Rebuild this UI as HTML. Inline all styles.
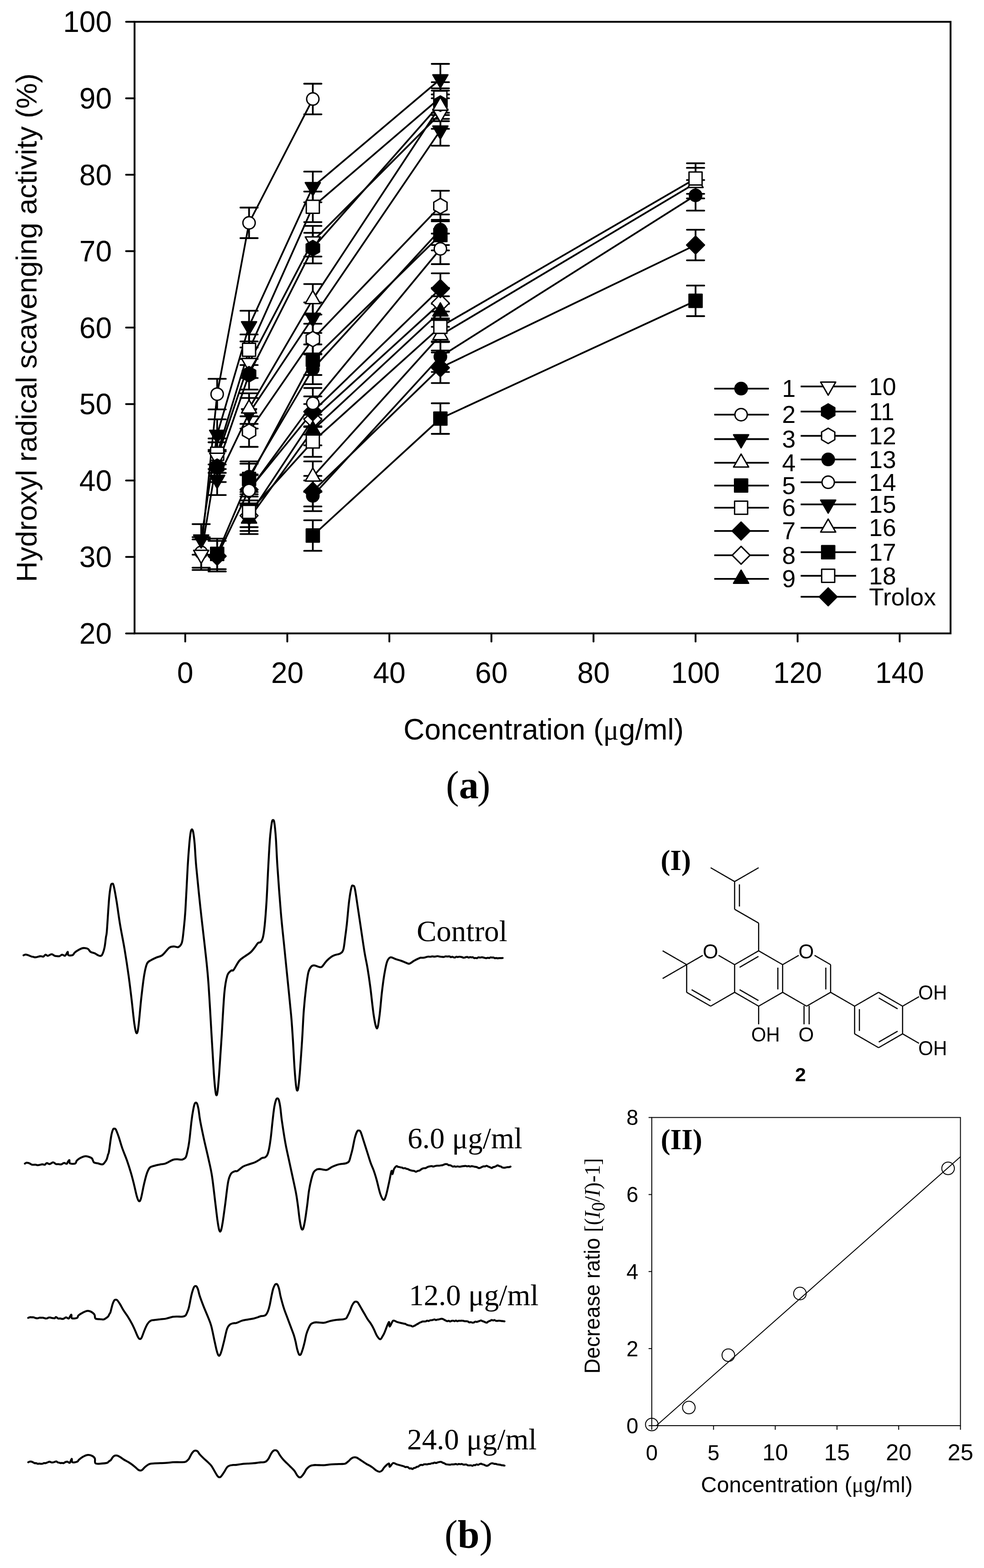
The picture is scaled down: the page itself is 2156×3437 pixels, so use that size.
<!DOCTYPE html>
<html><head><meta charset="utf-8"><title>Figure</title>
<style>html,body{margin:0;padding:0;background:#fff;}svg{display:block;}</style>
</head><body>
<svg width="2156" height="3437" viewBox="0 0 2156 3437">
<rect width="2156" height="3437" fill="#fff"/>
<g fill="none" stroke="#000" stroke-width="4" stroke-linecap="round">
<rect x="294.8" y="47.8" width="1787.9" height="1340.6" stroke-linejoin="miter"/>
<line x1="276.2" y1="1388.4" x2="294.8" y2="1388.4"/>
<line x1="276.2" y1="1220.8" x2="294.8" y2="1220.8"/>
<line x1="276.2" y1="1053.2" x2="294.8" y2="1053.2"/>
<line x1="276.2" y1="885.7" x2="294.8" y2="885.7"/>
<line x1="276.2" y1="718.1" x2="294.8" y2="718.1"/>
<line x1="276.2" y1="550.5" x2="294.8" y2="550.5"/>
<line x1="276.2" y1="382.9" x2="294.8" y2="382.9"/>
<line x1="276.2" y1="215.4" x2="294.8" y2="215.4"/>
<line x1="276.2" y1="47.8" x2="294.8" y2="47.8"/>
<line x1="405.9" y1="1388.4" x2="405.9" y2="1406.3"/>
<line x1="629.5" y1="1388.4" x2="629.5" y2="1406.3"/>
<line x1="853.1" y1="1388.4" x2="853.1" y2="1406.3"/>
<line x1="1076.7" y1="1388.4" x2="1076.7" y2="1406.3"/>
<line x1="1300.4" y1="1388.4" x2="1300.4" y2="1406.3"/>
<line x1="1524.0" y1="1388.4" x2="1524.0" y2="1406.3"/>
<line x1="1747.6" y1="1388.4" x2="1747.6" y2="1406.3"/>
<line x1="1971.2" y1="1388.4" x2="1971.2" y2="1406.3"/>
</g>
<g font-family="'Liberation Sans', Arial, sans-serif" font-size="64" fill="#000">
<text x="245" y="1411.0" text-anchor="end">20</text>
<text x="245" y="1243.4" text-anchor="end">30</text>
<text x="245" y="1075.8" text-anchor="end">40</text>
<text x="245" y="908.3" text-anchor="end">50</text>
<text x="245" y="740.7" text-anchor="end">60</text>
<text x="245" y="573.1" text-anchor="end">70</text>
<text x="245" y="405.6" text-anchor="end">80</text>
<text x="245" y="238.0" text-anchor="end">90</text>
<text x="245" y="70.4" text-anchor="end">100</text>
<text x="405.9" y="1497" text-anchor="middle">0</text>
<text x="629.5" y="1497" text-anchor="middle">20</text>
<text x="853.1" y="1497" text-anchor="middle">40</text>
<text x="1076.7" y="1497" text-anchor="middle">60</text>
<text x="1300.4" y="1497" text-anchor="middle">80</text>
<text x="1524.0" y="1497" text-anchor="middle">100</text>
<text x="1747.6" y="1497" text-anchor="middle">120</text>
<text x="1971.2" y="1497" text-anchor="middle">140</text>
<text x="80" y="1276" font-size="63.3" transform="rotate(-90 80 1276)">Hydroxyl radical scavenging activity (%)</text>
<text x="884" y="1621">Concentration (<tspan font-family="'Liberation Serif', serif">&#956;</tspan>g/ml)</text>
</g>
<text x="977" y="1750" font-family="'Liberation Serif', serif" font-weight="bold" font-size="86"><tspan font-weight="normal">(</tspan>a<tspan font-weight="normal" dx="-3">)</tspan></text>
<g fill="none" stroke="#000" stroke-width="3.8" stroke-linejoin="round">
<path d="M545.7 1044.9L685.4 808.6L964.9 503.6"/>
<path d="M440.8 1210.8L475.8 863.9L545.7 488.5L685.4 217.1"/>
<path d="M440.8 1182.3L475.8 952.7L545.7 714.7L685.4 409.8L964.9 173.5"/>
<path d="M545.7 895.7L685.4 656.1L964.9 232.1"/>
<path d="M475.8 1214.1L545.7 1049.9L685.4 788.5L964.9 515.3"/>
<path d="M475.8 994.6L545.7 766.7L685.4 453.3L964.9 213.7"/>
<path d="M475.8 1219.1L545.7 1073.4L685.4 902.4L964.9 632.6"/>
<path d="M545.7 1130.3L685.4 919.2L964.9 664.5"/>
<path d="M545.7 1137.0L685.4 942.7L964.9 682.9"/>
<path d="M440.8 1215.8L475.8 1003.0L545.7 795.2L685.4 528.7L964.9 248.9"/>
<path d="M475.8 1023.1L545.7 820.3L685.4 543.8L964.9 227.1"/>
<path d="M545.7 946.0L685.4 743.2L964.9 451.7"/>
<path d="M685.4 1086.8L964.9 781.8L1524.0 428.2"/>
<path d="M545.7 1075.0L685.4 884.0L964.9 545.5"/>
<path d="M475.8 1051.6L545.7 905.8L685.4 696.3L964.9 285.8"/>
<path d="M685.4 1044.9L964.9 734.9L1524.0 401.4"/>
<path d="M685.4 1173.9L964.9 917.5L1524.0 659.4"/>
<path d="M545.7 1122.0L685.4 967.8L964.9 716.4L1524.0 391.3"/>
<path d="M685.4 1076.7L964.9 806.1L1524.0 537.1"/>
</g>
<g fill="none" stroke="#000" stroke-width="3.8" stroke-linecap="round">
<path d="M545.7 1011.4V1078.4M526.7 1011.4H564.7M526.7 1078.4H564.7"/>
<path d="M685.4 775.1V842.1M666.4 775.1H704.4M666.4 842.1H704.4"/>
<path d="M964.9 470.1V537.1M945.9 470.1H983.9M945.9 537.1H983.9"/>
<path d="M440.8 1177.3V1244.3M421.8 1177.3H459.8M421.8 1244.3H459.8"/>
<path d="M475.8 830.4V897.4M456.8 830.4H494.8M456.8 897.4H494.8"/>
<path d="M545.7 455.0V522.0M526.7 455.0H564.7M526.7 522.0H564.7"/>
<path d="M685.4 183.5V250.6M666.4 183.5H704.4M666.4 250.6H704.4"/>
<path d="M440.8 1148.8V1215.8M421.8 1148.8H459.8M421.8 1215.8H459.8"/>
<path d="M475.8 919.2V986.2M456.8 919.2H494.8M456.8 986.2H494.8"/>
<path d="M545.7 681.2V748.3M526.7 681.2H564.7M526.7 748.3H564.7"/>
<path d="M685.4 376.2V443.3M666.4 376.2H704.4M666.4 443.3H704.4"/>
<path d="M964.9 140.0V207.0M945.9 140.0H983.9M945.9 207.0H983.9"/>
<path d="M545.7 862.2V929.2M526.7 862.2H564.7M526.7 929.2H564.7"/>
<path d="M685.4 622.6V689.6M666.4 622.6H704.4M666.4 689.6H704.4"/>
<path d="M964.9 198.6V265.6M945.9 198.6H983.9M945.9 265.6H983.9"/>
<path d="M475.8 1180.6V1247.6M456.8 1180.6H494.8M456.8 1247.6H494.8"/>
<path d="M545.7 1016.4V1083.4M526.7 1016.4H564.7M526.7 1083.4H564.7"/>
<path d="M685.4 755.0V822.0M666.4 755.0H704.4M666.4 822.0H704.4"/>
<path d="M964.9 481.8V548.8M945.9 481.8H983.9M945.9 548.8H983.9"/>
<path d="M475.8 961.1V1028.1M456.8 961.1H494.8M456.8 1028.1H494.8"/>
<path d="M545.7 733.2V800.2M526.7 733.2H564.7M526.7 800.2H564.7"/>
<path d="M685.4 419.8V486.8M666.4 419.8H704.4M666.4 486.8H704.4"/>
<path d="M964.9 180.2V247.2M945.9 180.2H983.9M945.9 247.2H983.9"/>
<path d="M475.8 1185.6V1252.7M456.8 1185.6H494.8M456.8 1252.7H494.8"/>
<path d="M545.7 1039.8V1106.9M526.7 1039.8H564.7M526.7 1106.9H564.7"/>
<path d="M685.4 868.9V935.9M666.4 868.9H704.4M666.4 935.9H704.4"/>
<path d="M964.9 599.1V666.2M945.9 599.1H983.9M945.9 666.2H983.9"/>
<path d="M545.7 1096.8V1163.8M526.7 1096.8H564.7M526.7 1163.8H564.7"/>
<path d="M685.4 885.7V952.7M666.4 885.7H704.4M666.4 952.7H704.4"/>
<path d="M964.9 631.0V698.0M945.9 631.0H983.9M945.9 698.0H983.9"/>
<path d="M545.7 1103.5V1170.6M526.7 1103.5H564.7M526.7 1170.6H564.7"/>
<path d="M685.4 909.1V976.2M666.4 909.1H704.4M666.4 976.2H704.4"/>
<path d="M964.9 649.4V716.4M945.9 649.4H983.9M945.9 716.4H983.9"/>
<path d="M440.8 1182.3V1249.3M421.8 1182.3H459.8M421.8 1249.3H459.8"/>
<path d="M475.8 969.5V1036.5M456.8 969.5H494.8M456.8 1036.5H494.8"/>
<path d="M545.7 761.7V828.7M526.7 761.7H564.7M526.7 828.7H564.7"/>
<path d="M685.4 495.2V562.3M666.4 495.2H704.4M666.4 562.3H704.4"/>
<path d="M964.9 215.4V282.4M945.9 215.4H983.9M945.9 282.4H983.9"/>
<path d="M475.8 989.6V1056.6M456.8 989.6H494.8M456.8 1056.6H494.8"/>
<path d="M545.7 786.8V853.8M526.7 786.8H564.7M526.7 853.8H564.7"/>
<path d="M685.4 510.3V577.3M666.4 510.3H704.4M666.4 577.3H704.4"/>
<path d="M964.9 193.6V260.6M945.9 193.6H983.9M945.9 260.6H983.9"/>
<path d="M545.7 912.5V979.5M526.7 912.5H564.7M526.7 979.5H564.7"/>
<path d="M685.4 709.7V776.8M666.4 709.7H704.4M666.4 776.8H704.4"/>
<path d="M964.9 418.1V485.2M945.9 418.1H983.9M945.9 485.2H983.9"/>
<path d="M685.4 1053.2V1120.3M666.4 1053.2H704.4M666.4 1120.3H704.4"/>
<path d="M964.9 748.3V815.3M945.9 748.3H983.9M945.9 815.3H983.9"/>
<path d="M1524.0 394.7V461.7M1505.0 394.7H1543.0M1505.0 461.7H1543.0"/>
<path d="M545.7 1041.5V1108.5M526.7 1041.5H564.7M526.7 1108.5H564.7"/>
<path d="M685.4 850.5V917.5M666.4 850.5H704.4M666.4 917.5H704.4"/>
<path d="M964.9 512.0V579.0M945.9 512.0H983.9M945.9 579.0H983.9"/>
<path d="M475.8 1018.1V1085.1M456.8 1018.1H494.8M456.8 1085.1H494.8"/>
<path d="M545.7 872.3V939.3M526.7 872.3H564.7M526.7 939.3H564.7"/>
<path d="M685.4 662.8V729.8M666.4 662.8H704.4M666.4 729.8H704.4"/>
<path d="M964.9 252.2V319.3M945.9 252.2H983.9M945.9 319.3H983.9"/>
<path d="M685.4 1011.4V1078.4M666.4 1011.4H704.4M666.4 1078.4H704.4"/>
<path d="M964.9 701.3V768.4M945.9 701.3H983.9M945.9 768.4H983.9"/>
<path d="M1524.0 367.9V434.9M1505.0 367.9H1543.0M1505.0 434.9H1543.0"/>
<path d="M685.4 1140.4V1207.4M666.4 1140.4H704.4M666.4 1207.4H704.4"/>
<path d="M964.9 884.0V951.0M945.9 884.0H983.9M945.9 951.0H983.9"/>
<path d="M1524.0 625.9V693.0M1505.0 625.9H1543.0M1505.0 693.0H1543.0"/>
<path d="M545.7 1088.4V1155.5M526.7 1088.4H564.7M526.7 1155.5H564.7"/>
<path d="M685.4 934.3V1001.3M666.4 934.3H704.4M666.4 1001.3H704.4"/>
<path d="M964.9 682.9V749.9M945.9 682.9H983.9M945.9 749.9H983.9"/>
<path d="M1524.0 357.8V424.8M1505.0 357.8H1543.0M1505.0 424.8H1543.0"/>
<path d="M685.4 1043.2V1110.2M666.4 1043.2H704.4M666.4 1110.2H704.4"/>
<path d="M964.9 772.6V839.6M945.9 772.6H983.9M945.9 839.6H983.9"/>
<path d="M1524.0 503.6V570.6M1505.0 503.6H1543.0M1505.0 570.6H1543.0"/>
</g>
<circle cx="545.7" cy="1044.9" r="13.5" fill="#000" stroke="#000" stroke-width="3.0"/>
<circle cx="685.4" cy="808.6" r="13.5" fill="#000" stroke="#000" stroke-width="3.0"/>
<circle cx="964.9" cy="503.6" r="13.5" fill="#000" stroke="#000" stroke-width="3.0"/>
<circle cx="440.8" cy="1210.8" r="13.5" fill="#fff" stroke="#000" stroke-width="3.0"/>
<circle cx="475.8" cy="863.9" r="13.5" fill="#fff" stroke="#000" stroke-width="3.0"/>
<circle cx="545.7" cy="488.5" r="13.5" fill="#fff" stroke="#000" stroke-width="3.0"/>
<circle cx="685.4" cy="217.1" r="13.5" fill="#fff" stroke="#000" stroke-width="3.0"/>
<path d="M424.3 1172.8L457.3 1172.8L440.8 1201.3Z" fill="#000" stroke="#000" stroke-width="3.0" stroke-linejoin="round"/>
<path d="M459.3 943.2L492.3 943.2L475.8 971.8Z" fill="#000" stroke="#000" stroke-width="3.0" stroke-linejoin="round"/>
<path d="M529.2 705.2L562.2 705.2L545.7 733.8Z" fill="#000" stroke="#000" stroke-width="3.0" stroke-linejoin="round"/>
<path d="M668.9 400.2L701.9 400.2L685.4 428.8Z" fill="#000" stroke="#000" stroke-width="3.0" stroke-linejoin="round"/>
<path d="M948.4 164.0L981.4 164.0L964.9 192.5Z" fill="#000" stroke="#000" stroke-width="3.0" stroke-linejoin="round"/>
<rect x="461.5" y="1199.8" width="28.6" height="28.6" fill="#000" stroke="#000" stroke-width="3.0" stroke-linejoin="round"/>
<rect x="531.4" y="1035.6" width="28.6" height="28.6" fill="#000" stroke="#000" stroke-width="3.0" stroke-linejoin="round"/>
<rect x="671.1" y="774.2" width="28.6" height="28.6" fill="#000" stroke="#000" stroke-width="3.0" stroke-linejoin="round"/>
<rect x="950.6" y="501.0" width="28.6" height="28.6" fill="#000" stroke="#000" stroke-width="3.0" stroke-linejoin="round"/>
<rect x="461.5" y="980.3" width="28.6" height="28.6" fill="#fff" stroke="#000" stroke-width="3.0" stroke-linejoin="round"/>
<rect x="531.4" y="752.4" width="28.6" height="28.6" fill="#fff" stroke="#000" stroke-width="3.0" stroke-linejoin="round"/>
<rect x="671.1" y="439.0" width="28.6" height="28.6" fill="#fff" stroke="#000" stroke-width="3.0" stroke-linejoin="round"/>
<rect x="950.6" y="199.4" width="28.6" height="28.6" fill="#fff" stroke="#000" stroke-width="3.0" stroke-linejoin="round"/>
<path d="M545.7 1110.8L565.2 1130.3L545.7 1149.8L526.2 1130.3Z" fill="#fff" stroke="#000" stroke-width="3.0" stroke-linejoin="round"/>
<path d="M685.4 899.7L704.9 919.2L685.4 938.7L665.9 919.2Z" fill="#fff" stroke="#000" stroke-width="3.0" stroke-linejoin="round"/>
<path d="M964.9 645.0L984.4 664.5L964.9 684.0L945.4 664.5Z" fill="#fff" stroke="#000" stroke-width="3.0" stroke-linejoin="round"/>
<path d="M475.8 1199.6L495.3 1219.1L475.8 1238.6L456.3 1219.1Z" fill="#000" stroke="#000" stroke-width="3.0" stroke-linejoin="round"/>
<path d="M545.7 1053.9L565.2 1073.4L545.7 1092.9L526.2 1073.4Z" fill="#000" stroke="#000" stroke-width="3.0" stroke-linejoin="round"/>
<path d="M685.4 882.9L704.9 902.4L685.4 921.9L665.9 902.4Z" fill="#000" stroke="#000" stroke-width="3.0" stroke-linejoin="round"/>
<path d="M964.9 613.1L984.4 632.6L964.9 652.1L945.4 632.6Z" fill="#000" stroke="#000" stroke-width="3.0" stroke-linejoin="round"/>
<path d="M529.2 1146.6L562.2 1146.6L545.7 1118.0Z" fill="#000" stroke="#000" stroke-width="3.0" stroke-linejoin="round"/>
<path d="M668.9 952.2L701.9 952.2L685.4 923.6Z" fill="#000" stroke="#000" stroke-width="3.0" stroke-linejoin="round"/>
<path d="M948.4 692.4L981.4 692.4L964.9 663.9Z" fill="#000" stroke="#000" stroke-width="3.0" stroke-linejoin="round"/>
<path d="M424.3 1206.3L457.3 1206.3L440.8 1234.9Z" fill="#fff" stroke="#000" stroke-width="3.0" stroke-linejoin="round"/>
<path d="M459.3 993.5L492.3 993.5L475.8 1022.0Z" fill="#fff" stroke="#000" stroke-width="3.0" stroke-linejoin="round"/>
<path d="M529.2 785.7L562.2 785.7L545.7 814.2Z" fill="#fff" stroke="#000" stroke-width="3.0" stroke-linejoin="round"/>
<path d="M668.9 519.2L701.9 519.2L685.4 547.8Z" fill="#fff" stroke="#000" stroke-width="3.0" stroke-linejoin="round"/>
<path d="M948.4 239.4L981.4 239.4L964.9 267.9Z" fill="#fff" stroke="#000" stroke-width="3.0" stroke-linejoin="round"/>
<path d="M475.8 1006.3L490.3 1014.7L490.3 1031.5L475.8 1039.9L461.2 1031.5L461.2 1014.7Z" fill="#000" stroke="#000" stroke-width="3.0" stroke-linejoin="round"/>
<path d="M545.7 803.5L560.2 811.9L560.2 828.7L545.7 837.1L531.1 828.7L531.1 811.9Z" fill="#000" stroke="#000" stroke-width="3.0" stroke-linejoin="round"/>
<path d="M685.4 527.0L700.0 535.4L700.0 552.2L685.4 560.6L670.9 552.2L670.9 535.4Z" fill="#000" stroke="#000" stroke-width="3.0" stroke-linejoin="round"/>
<path d="M964.9 210.3L979.5 218.7L979.5 235.5L964.9 243.9L950.4 235.5L950.4 218.7Z" fill="#000" stroke="#000" stroke-width="3.0" stroke-linejoin="round"/>
<path d="M545.7 929.2L560.2 937.6L560.2 954.4L545.7 962.8L531.1 954.4L531.1 937.6Z" fill="#fff" stroke="#000" stroke-width="3.0" stroke-linejoin="round"/>
<path d="M685.4 726.4L700.0 734.8L700.0 751.6L685.4 760.0L670.9 751.6L670.9 734.8Z" fill="#fff" stroke="#000" stroke-width="3.0" stroke-linejoin="round"/>
<path d="M964.9 434.9L979.5 443.3L979.5 460.1L964.9 468.5L950.4 460.1L950.4 443.3Z" fill="#fff" stroke="#000" stroke-width="3.0" stroke-linejoin="round"/>
<circle cx="685.4" cy="1086.8" r="13.5" fill="#000" stroke="#000" stroke-width="3.0"/>
<circle cx="964.9" cy="781.8" r="13.5" fill="#000" stroke="#000" stroke-width="3.0"/>
<circle cx="1524.0" cy="428.2" r="13.5" fill="#000" stroke="#000" stroke-width="3.0"/>
<circle cx="545.7" cy="1075.0" r="13.5" fill="#fff" stroke="#000" stroke-width="3.0"/>
<circle cx="685.4" cy="884.0" r="13.5" fill="#fff" stroke="#000" stroke-width="3.0"/>
<circle cx="964.9" cy="545.5" r="13.5" fill="#fff" stroke="#000" stroke-width="3.0"/>
<path d="M459.3 1042.0L492.3 1042.0L475.8 1070.6Z" fill="#000" stroke="#000" stroke-width="3.0" stroke-linejoin="round"/>
<path d="M529.2 896.3L562.2 896.3L545.7 924.8Z" fill="#000" stroke="#000" stroke-width="3.0" stroke-linejoin="round"/>
<path d="M668.9 686.8L701.9 686.8L685.4 715.4Z" fill="#000" stroke="#000" stroke-width="3.0" stroke-linejoin="round"/>
<path d="M948.4 276.2L981.4 276.2L964.9 304.8Z" fill="#000" stroke="#000" stroke-width="3.0" stroke-linejoin="round"/>
<path d="M668.9 1054.4L701.9 1054.4L685.4 1025.8Z" fill="#fff" stroke="#000" stroke-width="3.0" stroke-linejoin="round"/>
<path d="M948.4 744.4L981.4 744.4L964.9 715.8Z" fill="#fff" stroke="#000" stroke-width="3.0" stroke-linejoin="round"/>
<path d="M1507.5 410.9L1540.5 410.9L1524.0 382.3Z" fill="#fff" stroke="#000" stroke-width="3.0" stroke-linejoin="round"/>
<rect x="671.1" y="1159.6" width="28.6" height="28.6" fill="#000" stroke="#000" stroke-width="3.0" stroke-linejoin="round"/>
<rect x="950.6" y="903.2" width="28.6" height="28.6" fill="#000" stroke="#000" stroke-width="3.0" stroke-linejoin="round"/>
<rect x="1509.7" y="645.1" width="28.6" height="28.6" fill="#000" stroke="#000" stroke-width="3.0" stroke-linejoin="round"/>
<rect x="531.4" y="1107.7" width="28.6" height="28.6" fill="#fff" stroke="#000" stroke-width="3.0" stroke-linejoin="round"/>
<rect x="671.1" y="953.5" width="28.6" height="28.6" fill="#fff" stroke="#000" stroke-width="3.0" stroke-linejoin="round"/>
<rect x="950.6" y="702.1" width="28.6" height="28.6" fill="#fff" stroke="#000" stroke-width="3.0" stroke-linejoin="round"/>
<rect x="1509.7" y="377.0" width="28.6" height="28.6" fill="#fff" stroke="#000" stroke-width="3.0" stroke-linejoin="round"/>
<path d="M685.4 1057.2L704.9 1076.7L685.4 1096.2L665.9 1076.7Z" fill="#000" stroke="#000" stroke-width="3.0" stroke-linejoin="round"/>
<path d="M964.9 786.6L984.4 806.1L964.9 825.6L945.4 806.1Z" fill="#000" stroke="#000" stroke-width="3.0" stroke-linejoin="round"/>
<path d="M1524.0 517.6L1543.5 537.1L1524.0 556.6L1504.5 537.1Z" fill="#000" stroke="#000" stroke-width="3.0" stroke-linejoin="round"/>
<path d="M529.2 905.3L562.2 905.3L545.7 876.7Z" fill="#fff" stroke="#000" stroke-width="3.0" stroke-linejoin="round"/>
<path d="M668.9 665.6L701.9 665.6L685.4 637.0Z" fill="#fff" stroke="#000" stroke-width="3.0" stroke-linejoin="round"/>
<path d="M948.4 241.7L981.4 241.7L964.9 213.1Z" fill="#fff" stroke="#000" stroke-width="3.0" stroke-linejoin="round"/>
<g fill="none" stroke="#000" stroke-width="3.8">
<line x1="1565" y1="851.8" x2="1684.6" y2="851.8"/>
<line x1="1565" y1="908.9" x2="1684.6" y2="908.9"/>
<line x1="1565" y1="962.5" x2="1684.6" y2="962.5"/>
<line x1="1565" y1="1014.3" x2="1684.6" y2="1014.3"/>
<line x1="1565" y1="1064.3" x2="1684.6" y2="1064.3"/>
<line x1="1565" y1="1112.9" x2="1684.6" y2="1112.9"/>
<line x1="1565" y1="1163.9" x2="1684.6" y2="1163.9"/>
<line x1="1565" y1="1217.1" x2="1684.6" y2="1217.1"/>
<line x1="1565" y1="1268.9" x2="1684.6" y2="1268.9"/>
<line x1="1754.3" y1="847.1" x2="1875.7" y2="847.1"/>
<line x1="1754.3" y1="902.1" x2="1875.7" y2="902.1"/>
<line x1="1754.3" y1="955.4" x2="1875.7" y2="955.4"/>
<line x1="1754.3" y1="1007.1" x2="1875.7" y2="1007.1"/>
<line x1="1754.3" y1="1057.1" x2="1875.7" y2="1057.1"/>
<line x1="1754.3" y1="1105.7" x2="1875.7" y2="1105.7"/>
<line x1="1754.3" y1="1156.8" x2="1875.7" y2="1156.8"/>
<line x1="1754.3" y1="1210.4" x2="1875.7" y2="1210.4"/>
<line x1="1754.3" y1="1262.1" x2="1875.7" y2="1262.1"/>
<line x1="1754.3" y1="1308.2" x2="1875.7" y2="1308.2"/>
</g>
<circle cx="1623.8" cy="851.8" r="13.5" fill="#000" stroke="#000" stroke-width="3.0"/>
<circle cx="1623.8" cy="908.9" r="13.5" fill="#fff" stroke="#000" stroke-width="3.0"/>
<path d="M1607.3 953.0L1640.3 953.0L1623.8 981.6Z" fill="#000" stroke="#000" stroke-width="3.0" stroke-linejoin="round"/>
<path d="M1607.3 1023.8L1640.3 1023.8L1623.8 995.2Z" fill="#fff" stroke="#000" stroke-width="3.0" stroke-linejoin="round"/>
<rect x="1609.5" y="1050.0" width="28.6" height="28.6" fill="#000" stroke="#000" stroke-width="3.0" stroke-linejoin="round"/>
<rect x="1609.5" y="1098.6" width="28.6" height="28.6" fill="#fff" stroke="#000" stroke-width="3.0" stroke-linejoin="round"/>
<path d="M1623.8 1144.4L1643.3 1163.9L1623.8 1183.4L1604.3 1163.9Z" fill="#000" stroke="#000" stroke-width="3.0" stroke-linejoin="round"/>
<path d="M1623.8 1197.6L1643.3 1217.1L1623.8 1236.6L1604.3 1217.1Z" fill="#fff" stroke="#000" stroke-width="3.0" stroke-linejoin="round"/>
<path d="M1607.3 1278.4L1640.3 1278.4L1623.8 1249.8Z" fill="#000" stroke="#000" stroke-width="3.0" stroke-linejoin="round"/>
<path d="M1798.1 837.6L1831.1 837.6L1814.6 866.2Z" fill="#fff" stroke="#000" stroke-width="3.0" stroke-linejoin="round"/>
<path d="M1814.6 885.3L1829.1 893.7L1829.1 910.5L1814.6 918.9L1800.1 910.5L1800.1 893.7Z" fill="#000" stroke="#000" stroke-width="3.0" stroke-linejoin="round"/>
<path d="M1814.6 938.6L1829.1 947.0L1829.1 963.8L1814.6 972.2L1800.1 963.8L1800.1 947.0Z" fill="#fff" stroke="#000" stroke-width="3.0" stroke-linejoin="round"/>
<circle cx="1814.6" cy="1007.1" r="13.5" fill="#000" stroke="#000" stroke-width="3.0"/>
<circle cx="1814.6" cy="1057.1" r="13.5" fill="#fff" stroke="#000" stroke-width="3.0"/>
<path d="M1798.1 1096.2L1831.1 1096.2L1814.6 1124.8Z" fill="#000" stroke="#000" stroke-width="3.0" stroke-linejoin="round"/>
<path d="M1798.1 1166.3L1831.1 1166.3L1814.6 1137.7Z" fill="#fff" stroke="#000" stroke-width="3.0" stroke-linejoin="round"/>
<rect x="1800.3" y="1196.1" width="28.6" height="28.6" fill="#000" stroke="#000" stroke-width="3.0" stroke-linejoin="round"/>
<rect x="1800.3" y="1247.8" width="28.6" height="28.6" fill="#fff" stroke="#000" stroke-width="3.0" stroke-linejoin="round"/>
<path d="M1814.6 1288.7L1834.1 1308.2L1814.6 1327.7L1795.1 1308.2Z" fill="#000" stroke="#000" stroke-width="3.0" stroke-linejoin="round"/>
<g font-family="'Liberation Sans', Arial, sans-serif" font-size="53.5" fill="#000">
<text x="1713.5" y="870.3">1</text>
<text x="1713.5" y="927.4">2</text>
<text x="1713.5" y="981.0">3</text>
<text x="1713.5" y="1032.8">4</text>
<text x="1713.5" y="1082.8">5</text>
<text x="1713.5" y="1131.4">6</text>
<text x="1713.5" y="1182.4">7</text>
<text x="1713.5" y="1235.6">8</text>
<text x="1713.5" y="1287.4">9</text>
<text x="1904" y="865.6">10</text>
<text x="1904" y="920.6">11</text>
<text x="1904" y="973.9">12</text>
<text x="1904" y="1025.6">13</text>
<text x="1904" y="1075.6">14</text>
<text x="1904" y="1124.2">15</text>
<text x="1904" y="1175.3">16</text>
<text x="1904" y="1228.9">17</text>
<text x="1904" y="1280.6">18</text>
<text x="1904" y="1326.7">Trolox</text>
</g>
<g fill="none" stroke="#000" stroke-width="4.3" stroke-linejoin="round" stroke-linecap="round">
<path d="M51.6 2094.1C52.3 2093.8 54.3 2092.4 56.0 2092.4C57.7 2092.4 60.2 2093.3 61.8 2093.8C63.4 2094.3 64.2 2094.7 65.4 2095.2C66.7 2095.7 67.9 2096.3 69.1 2096.7C70.3 2097.1 71.4 2097.0 72.5 2097.3C73.6 2097.6 74.8 2098.2 75.9 2098.4C77.0 2098.5 78.0 2098.4 79.3 2098.2C80.6 2098.0 82.2 2097.4 83.7 2097.0C85.1 2096.7 86.7 2096.1 88.0 2096.0C89.3 2095.9 90.4 2096.2 91.7 2096.4C92.9 2096.5 94.0 2097.3 95.3 2096.7C96.6 2096.1 98.2 2093.0 99.7 2092.7C101.2 2092.4 102.7 2094.8 104.0 2095.0C105.3 2095.2 106.3 2094.5 107.4 2094.0C108.5 2093.6 109.7 2092.7 110.8 2092.3C111.9 2091.9 112.7 2091.2 114.2 2091.7C115.7 2092.2 118.5 2094.7 120.0 2095.3C121.5 2095.9 122.3 2095.4 123.4 2095.6C124.5 2095.7 125.7 2095.9 126.8 2096.0C127.9 2096.0 128.7 2096.5 130.2 2096.0C131.7 2095.5 134.1 2092.9 136.0 2092.7C137.9 2092.5 140.3 2095.1 141.8 2095.0C143.3 2094.9 143.7 2093.8 144.8 2092.4C145.9 2091.0 147.6 2086.1 148.4 2086.3C149.2 2086.5 148.1 2092.6 149.9 2093.8C151.7 2095.0 157.0 2094.5 159.3 2093.5C161.6 2092.5 161.8 2089.8 163.7 2088.0C165.6 2086.2 168.3 2084.5 171.0 2082.9C173.7 2081.3 177.3 2079.4 179.7 2078.6C182.1 2077.8 183.3 2077.9 185.5 2078.1C187.7 2078.3 190.6 2078.6 192.8 2080.0C195.0 2081.4 196.2 2085.0 198.6 2086.6C201.0 2088.2 204.6 2088.3 207.3 2089.5C210.0 2090.7 212.5 2092.8 214.6 2093.8C216.7 2094.8 218.1 2095.5 219.7 2095.3C221.3 2095.1 222.4 2095.6 224.0 2092.4C225.6 2089.2 227.8 2082.7 229.1 2076.4C230.4 2070.1 231.2 2060.6 232.1 2054.5C232.9 2048.4 233.0 2054.0 234.2 2040.0C235.3 2026.0 237.6 1986.8 239.0 1970.4C240.4 1954.0 241.7 1947.0 242.8 1941.5C243.9 1936.0 244.8 1937.2 245.8 1937.2C246.9 1937.2 247.5 1935.1 249.1 1941.5C250.7 1947.9 253.1 1961.4 255.4 1975.4C257.7 1989.4 260.0 2008.1 262.9 2025.7C265.8 2043.3 269.9 2062.2 273.0 2081.0C276.1 2099.8 279.3 2120.8 281.8 2138.8C284.3 2156.8 286.0 2171.4 288.1 2189.0C290.2 2206.6 292.6 2231.7 294.4 2244.3C296.2 2256.9 297.4 2263.2 298.9 2264.4C300.3 2265.7 301.4 2264.4 303.1 2251.8C304.9 2239.2 307.3 2207.8 309.4 2189.0C311.5 2170.2 313.6 2151.6 315.7 2138.8C317.8 2126.0 319.5 2118.1 322.0 2112.4C324.5 2106.7 327.2 2107.1 330.8 2104.8C334.4 2102.5 339.2 2100.4 343.4 2098.5C347.6 2096.6 351.3 2097.1 355.9 2093.5C360.5 2089.9 366.8 2080.3 371.0 2077.2C375.2 2074.1 377.8 2074.9 381.1 2074.7C384.5 2074.5 388.2 2077.4 391.1 2075.9C394.0 2074.4 396.7 2072.2 398.6 2065.9C400.5 2059.6 401.1 2049.9 402.4 2038.2C403.7 2026.5 404.7 2018.5 406.2 1995.5C407.7 1972.5 409.8 1924.2 411.2 1900.0C412.6 1875.8 413.7 1862.7 414.8 1850.0C415.9 1837.3 416.9 1829.3 417.8 1824.0C418.8 1818.7 419.6 1818.0 420.5 1818.0C421.4 1818.0 422.3 1818.7 423.3 1824.0C424.3 1829.3 425.4 1837.3 426.5 1850.0C427.6 1862.7 427.9 1877.0 430.0 1900.0C432.1 1923.0 435.8 1958.7 438.9 1988.0C442.0 2017.3 446.0 2048.7 448.9 2075.9C451.8 2103.1 453.9 2117.8 456.4 2151.3C458.9 2184.8 462.0 2243.6 464.0 2277.0C466.0 2310.4 467.2 2333.2 468.5 2352.0C469.8 2370.8 470.8 2381.9 471.8 2390.0C472.8 2398.1 473.5 2400.8 474.4 2400.8C475.3 2400.8 476.0 2398.1 477.0 2390.0C478.0 2381.9 478.9 2370.8 480.3 2352.0C481.7 2333.2 483.4 2306.2 485.3 2277.0C487.2 2247.8 489.5 2199.5 491.6 2176.5C493.7 2153.5 495.4 2147.0 497.9 2138.8C500.4 2130.6 504.4 2129.5 506.7 2127.4C509.0 2125.3 508.8 2129.8 511.7 2126.2C514.6 2122.6 520.1 2111.0 524.3 2106.0C528.5 2101.0 532.7 2099.1 536.9 2096.0C541.1 2092.9 545.8 2090.5 549.4 2087.2C553.0 2083.8 556.2 2079.2 558.8 2075.9C561.4 2072.6 563.0 2069.0 565.1 2067.1C567.2 2065.2 569.5 2066.9 571.4 2064.6C573.3 2062.3 574.9 2059.8 576.4 2053.3C577.9 2046.8 578.9 2038.7 580.2 2025.7C581.5 2012.7 582.7 1996.4 584.0 1975.4C585.3 1954.5 586.5 1922.9 587.8 1900.0C589.0 1877.1 590.2 1854.0 591.5 1838.0C592.8 1822.0 594.3 1810.8 595.4 1804.0C596.5 1797.2 597.3 1797.5 598.3 1797.5C599.3 1797.5 600.2 1797.2 601.2 1804.0C602.2 1810.8 603.4 1822.0 604.5 1838.0C605.6 1854.0 606.1 1872.9 607.9 1900.0C609.7 1927.1 612.9 1971.2 615.4 2000.5C617.9 2029.8 620.4 2050.8 622.9 2075.9C625.4 2101.0 628.0 2126.2 630.5 2151.3C633.0 2176.4 636.1 2205.2 638.0 2226.7C639.9 2248.1 640.5 2260.4 641.8 2280.0C643.0 2299.6 644.3 2327.2 645.5 2344.0C646.7 2360.8 647.8 2373.2 648.8 2381.0C649.8 2388.8 650.5 2390.5 651.4 2390.5C652.3 2390.5 653.0 2388.8 654.0 2381.0C655.0 2373.2 656.2 2360.8 657.5 2344.0C658.8 2327.2 660.5 2301.6 661.9 2280.0C663.3 2258.4 664.2 2233.5 665.7 2214.2C667.2 2194.8 669.0 2177.7 670.7 2163.9C672.4 2150.1 673.8 2138.8 675.7 2131.2C677.6 2123.6 679.9 2121.1 682.0 2118.6C684.1 2116.1 685.2 2115.9 688.3 2116.1C691.4 2116.3 697.9 2119.5 700.8 2119.9C703.7 2120.3 703.4 2120.9 705.9 2118.6C708.4 2116.3 712.5 2109.6 715.9 2106.1C719.2 2102.6 723.1 2099.4 726.0 2097.3C728.9 2095.2 730.1 2094.8 733.5 2093.5C736.9 2092.2 743.0 2091.8 746.1 2089.7C749.2 2087.6 750.7 2086.7 752.4 2081.0C754.1 2075.3 754.9 2065.0 756.1 2055.8C757.4 2046.6 758.4 2039.1 759.9 2025.7C761.4 2012.3 763.2 1988.8 764.9 1975.4C766.6 1962.0 768.5 1950.9 770.0 1945.2C771.5 1939.5 772.5 1941.1 773.7 1941.5C775.0 1941.9 775.8 1940.0 777.5 1947.8C779.2 1955.5 781.5 1972.9 783.8 1988.0C786.1 2003.1 788.8 2021.5 791.3 2038.2C793.8 2054.9 796.6 2074.7 798.9 2088.5C801.2 2102.3 803.0 2108.6 805.1 2121.2C807.2 2133.8 809.1 2146.3 811.4 2163.9C813.7 2181.5 816.6 2211.6 819.0 2226.7C821.4 2241.8 823.9 2254.4 826.0 2254.4C828.1 2254.4 829.7 2239.7 831.5 2226.7C833.3 2213.7 834.9 2191.2 836.6 2176.5C838.3 2161.8 839.7 2150.1 841.6 2138.8C843.5 2127.5 845.6 2115.3 847.9 2108.6C850.2 2101.9 852.3 2099.6 855.4 2098.5C858.5 2097.4 862.7 2101.0 866.7 2102.3C870.7 2103.6 875.6 2104.8 879.3 2106.1C883.0 2107.4 886.1 2108.9 889.0 2110.0C891.9 2111.1 893.9 2113.1 896.9 2112.4C899.9 2111.8 903.0 2108.2 906.9 2106.1C910.8 2104.0 917.3 2100.9 920.0 2099.8C922.7 2098.7 922.0 2099.5 923.0 2099.4C924.0 2099.4 925.0 2099.5 926.0 2099.4C927.0 2099.4 928.0 2099.3 929.0 2099.1C930.0 2099.0 931.0 2098.8 932.0 2098.5C933.0 2098.2 934.0 2097.8 935.0 2097.5C936.0 2097.2 937.0 2096.9 938.0 2096.9C939.0 2096.8 940.0 2097.1 941.0 2097.1C942.0 2097.2 942.9 2097.1 944.0 2097.0C945.1 2096.9 946.4 2096.3 947.6 2096.3C948.9 2096.3 950.1 2097.0 951.3 2097.0C952.5 2097.0 953.7 2096.7 955.0 2096.5C956.2 2096.3 957.4 2095.9 958.6 2095.9C959.8 2095.9 961.1 2096.4 962.4 2096.6C963.7 2096.8 964.9 2096.9 966.2 2097.1C967.5 2097.2 968.9 2097.4 970.0 2097.5C971.1 2097.6 972.0 2097.7 973.0 2097.5C974.0 2097.4 975.0 2096.5 976.0 2096.4C977.0 2096.2 978.0 2096.6 979.0 2096.6C980.0 2096.7 981.0 2096.5 982.0 2096.5C983.0 2096.5 984.0 2096.1 985.0 2096.4C986.0 2096.7 987.0 2098.1 988.0 2098.2C989.0 2098.4 990.0 2097.2 991.0 2097.2C992.0 2097.3 993.0 2098.2 994.0 2098.5C995.0 2098.8 996.0 2099.0 997.0 2098.7C998.0 2098.5 999.0 2097.2 1000.0 2097.1C1001.0 2096.9 1002.0 2097.8 1003.0 2097.9C1004.0 2097.9 1005.0 2097.3 1006.0 2097.2C1007.0 2097.1 1008.0 2097.2 1009.0 2097.4C1010.0 2097.5 1011.0 2097.6 1012.0 2097.9C1013.0 2098.2 1014.0 2099.0 1015.0 2099.2C1016.0 2099.3 1017.0 2099.2 1018.0 2099.0C1019.0 2098.8 1020.0 2098.1 1021.0 2097.9C1022.0 2097.7 1023.0 2097.5 1024.0 2097.7C1025.0 2097.9 1026.0 2098.9 1027.0 2099.0C1028.0 2099.0 1029.0 2098.1 1030.0 2098.0C1031.0 2097.9 1032.0 2098.4 1033.0 2098.5C1034.0 2098.5 1035.0 2097.9 1036.0 2098.2C1037.0 2098.5 1038.0 2100.0 1039.0 2100.2C1040.0 2100.5 1041.0 2099.8 1042.0 2099.8C1043.0 2099.8 1044.0 2100.5 1045.0 2100.3C1046.0 2100.1 1047.0 2098.8 1048.0 2098.5C1049.0 2098.2 1050.0 2098.7 1051.0 2098.8C1052.0 2098.8 1053.0 2098.7 1054.0 2098.6C1055.0 2098.5 1056.0 2098.3 1057.0 2098.3C1058.0 2098.4 1059.0 2098.8 1060.0 2099.1C1061.0 2099.3 1062.0 2099.8 1063.0 2100.0C1064.0 2100.2 1065.0 2100.3 1066.0 2100.2C1067.0 2100.1 1068.0 2099.3 1069.0 2099.3C1070.0 2099.3 1071.0 2100.1 1072.0 2100.0C1073.0 2099.8 1074.0 2098.7 1075.0 2098.5C1076.0 2098.3 1077.0 2099.0 1078.0 2099.0C1079.0 2099.0 1080.0 2098.6 1081.0 2098.8C1082.0 2099.0 1083.0 2100.1 1084.0 2100.3C1085.0 2100.5 1086.0 2099.9 1087.0 2099.9C1088.0 2100.0 1088.9 2100.5 1090.0 2100.5C1091.1 2100.5 1092.5 2100.2 1093.8 2100.1C1095.1 2100.1 1096.3 2100.3 1097.6 2100.2C1098.9 2100.2 1100.8 2099.9 1101.4 2099.8"/>
<path d="M54.5 2550.6C55.1 2550.3 56.7 2548.9 58.2 2548.7C59.7 2548.5 61.8 2549.1 63.3 2549.5C64.8 2549.9 65.7 2550.8 66.9 2551.4C68.2 2552.0 69.3 2552.8 70.6 2553.1C71.9 2553.4 73.2 2553.1 74.5 2553.1C75.8 2553.1 77.0 2552.8 78.3 2553.0C79.6 2553.2 80.8 2554.0 82.2 2554.1C83.6 2554.2 85.1 2553.8 86.6 2553.5C88.0 2553.2 89.6 2552.6 90.9 2552.4C92.2 2552.2 93.3 2552.2 94.6 2552.3C95.8 2552.4 96.9 2553.6 98.2 2553.1C99.5 2552.6 100.9 2549.7 102.6 2549.5C104.3 2549.3 106.7 2551.7 108.4 2551.7C110.1 2551.7 111.3 2550.1 112.8 2549.5C114.2 2548.8 115.4 2547.6 117.1 2548.0C118.8 2548.4 121.3 2551.1 122.9 2551.7C124.5 2552.3 125.5 2551.6 126.8 2551.7C128.1 2551.8 129.4 2552.1 130.7 2552.2C132.0 2552.3 133.0 2552.6 134.6 2552.1C136.2 2551.6 138.5 2549.3 140.4 2549.2C142.3 2549.0 144.9 2551.5 146.2 2551.2C147.5 2550.9 147.4 2548.7 148.4 2547.3C149.4 2545.9 151.2 2542.4 152.0 2542.9C152.8 2543.4 151.3 2549.0 153.5 2550.2C155.7 2551.4 162.7 2551.2 165.1 2550.2C167.5 2549.2 166.3 2546.3 168.0 2544.4C169.7 2542.5 172.4 2540.2 175.3 2538.6C178.2 2537.0 182.3 2535.1 185.5 2534.6C188.7 2534.1 191.5 2534.8 194.2 2535.6C196.9 2536.4 199.6 2537.2 201.5 2539.3C203.4 2541.4 203.7 2546.2 205.9 2548.0C208.1 2549.8 211.6 2549.5 214.6 2550.2C217.6 2550.9 221.7 2552.6 224.0 2552.4C226.3 2552.2 226.9 2551.0 228.6 2549.1C230.2 2547.3 232.3 2544.5 233.7 2541.4C235.0 2538.3 235.9 2533.7 236.7 2530.8C237.6 2527.8 237.7 2530.6 238.8 2523.8C240.0 2517.0 242.2 2498.0 243.7 2490.0C245.1 2482.1 246.3 2478.7 247.5 2476.0C248.6 2473.3 249.4 2473.9 250.5 2474.0C251.6 2474.0 252.2 2473.0 253.9 2476.0C255.5 2479.1 257.9 2485.7 260.3 2492.5C262.6 2499.3 264.9 2508.4 267.9 2516.9C270.9 2525.5 275.0 2534.6 278.2 2543.8C281.4 2553.0 284.6 2563.1 287.2 2571.9C289.7 2580.6 291.5 2587.7 293.6 2596.2C295.7 2604.8 298.2 2617.0 300.0 2623.1C301.8 2629.2 303.1 2632.2 304.6 2632.9C306.1 2633.5 307.1 2632.8 308.9 2626.8C310.7 2620.7 313.2 2605.5 315.4 2596.3C317.5 2587.2 319.7 2578.2 321.8 2572.0C324.0 2565.8 325.7 2562.0 328.3 2559.2C330.8 2556.5 333.6 2556.7 337.3 2555.6C340.9 2554.5 345.9 2553.5 350.2 2552.6C354.5 2551.7 358.3 2551.9 363.0 2550.2C367.7 2548.5 374.2 2543.9 378.5 2542.4C382.8 2540.9 385.4 2541.3 388.8 2541.2C392.3 2541.1 396.1 2542.5 399.1 2541.8C402.1 2541.1 404.8 2540.0 406.8 2537.0C408.7 2533.9 409.4 2529.2 410.7 2523.6C412.0 2517.9 413.0 2514.0 414.5 2502.9C416.1 2491.7 418.2 2468.3 419.7 2456.6C421.1 2444.8 422.2 2438.5 423.4 2432.3C424.5 2426.2 425.5 2422.3 426.4 2419.7C427.4 2417.2 428.3 2416.8 429.2 2416.8C430.1 2416.8 431.0 2417.2 432.0 2419.8C433.0 2422.4 434.0 2426.2 435.1 2432.4C436.2 2438.5 436.5 2445.5 438.6 2456.6C440.6 2467.8 444.3 2485.1 447.4 2499.4C450.5 2513.6 454.4 2528.8 457.2 2542.0C460.1 2555.2 462.1 2562.4 464.6 2578.6C467.1 2594.9 470.1 2623.4 472.1 2639.6C474.1 2655.9 475.3 2666.9 476.6 2676.0C477.9 2685.2 478.9 2690.5 479.8 2694.5C480.8 2698.4 481.5 2699.7 482.4 2699.7C483.3 2699.7 484.0 2698.4 485.0 2694.5C486.0 2690.5 487.0 2685.2 488.4 2676.1C489.8 2666.9 491.5 2653.9 493.4 2639.7C495.3 2625.5 497.7 2602.1 499.8 2591.0C501.9 2579.8 503.6 2576.7 506.2 2572.7C508.7 2568.8 512.8 2568.2 515.1 2567.2C517.4 2566.2 517.2 2568.4 520.2 2566.7C523.1 2564.9 528.7 2559.3 532.9 2556.9C537.2 2554.5 541.4 2553.6 545.7 2552.1C549.9 2550.6 554.6 2549.5 558.3 2547.9C562.0 2546.3 565.2 2544.1 567.8 2542.5C570.5 2540.8 572.1 2539.1 574.2 2538.2C576.3 2537.3 578.7 2538.1 580.6 2537.0C582.5 2535.9 584.2 2534.7 585.6 2531.6C587.1 2528.4 588.2 2524.5 589.5 2518.2C590.8 2511.9 592.0 2504.0 593.3 2493.8C594.6 2483.7 595.9 2468.4 597.2 2457.3C598.4 2446.2 599.6 2435.0 600.9 2427.2C602.2 2419.4 603.7 2414.0 604.9 2410.7C606.0 2407.5 606.8 2407.6 607.8 2407.6C608.8 2407.6 609.7 2407.5 610.8 2410.8C611.9 2414.0 613.0 2419.5 614.2 2427.3C615.3 2435.0 615.8 2444.2 617.7 2457.3C619.6 2470.5 622.8 2491.9 625.4 2506.1C628.0 2520.3 630.5 2530.5 633.1 2542.7C635.7 2554.9 638.4 2567.1 641.0 2579.3C643.6 2591.5 646.8 2605.5 648.7 2615.9C650.6 2626.3 651.3 2632.3 652.6 2641.8C653.9 2651.3 655.2 2664.7 656.4 2672.8C657.6 2681.0 658.8 2687.0 659.8 2690.8C660.8 2694.6 661.6 2695.4 662.5 2695.4C663.4 2695.4 664.1 2694.6 665.1 2690.8C666.2 2687.1 667.3 2681.0 668.7 2672.9C670.0 2664.7 671.7 2652.3 673.1 2641.9C674.5 2631.4 675.5 2619.3 677.0 2610.0C678.5 2600.6 680.3 2592.3 682.0 2585.6C683.7 2578.9 685.2 2573.4 687.1 2569.7C689.0 2566.1 691.3 2564.9 693.5 2563.7C695.6 2562.4 696.7 2562.4 699.9 2562.5C703.0 2562.6 709.5 2564.1 712.5 2564.4C715.5 2564.6 715.1 2564.9 717.7 2563.8C720.2 2562.6 724.4 2559.4 727.8 2557.7C731.2 2556.0 735.0 2554.5 738.0 2553.5C741.0 2552.5 742.2 2552.3 745.6 2551.7C749.0 2551.1 755.2 2550.9 758.4 2549.9C761.6 2548.9 763.1 2548.4 764.7 2545.7C766.4 2543.0 767.2 2538.0 768.5 2533.5C769.7 2529.0 770.8 2525.4 772.3 2518.9C773.8 2512.4 775.7 2501.0 777.4 2494.5C779.1 2488.0 781.1 2482.6 782.6 2479.9C784.0 2477.2 785.0 2477.9 786.3 2478.1C787.6 2478.3 788.5 2477.4 790.2 2481.2C792.0 2485.0 794.4 2493.4 796.7 2500.7C799.1 2508.0 801.9 2517.0 804.5 2525.1C807.1 2533.2 809.9 2542.8 812.3 2549.5C814.7 2556.2 816.6 2559.3 818.7 2565.4C820.9 2571.5 822.8 2577.6 825.2 2586.1C827.6 2594.7 830.6 2609.3 833.1 2616.6C835.6 2624.0 838.2 2629.5 840.3 2630.1C842.4 2630.7 843.8 2626.7 845.8 2620.4C847.8 2614.1 850.4 2600.9 852.4 2592.0C854.4 2583.1 856.5 2570.0 857.8 2566.9C859.1 2563.8 859.1 2574.2 860.0 2573.5C860.9 2572.8 861.8 2565.5 863.3 2562.6C864.8 2559.7 867.3 2556.8 868.7 2556.0C870.1 2555.2 870.7 2557.2 871.7 2557.6C872.7 2557.9 873.7 2557.8 874.8 2558.0C875.8 2558.2 876.8 2558.7 877.8 2559.0C878.8 2559.2 879.8 2559.0 880.8 2559.3C881.8 2559.6 883.0 2560.7 884.0 2560.9C885.1 2561.1 886.2 2560.3 887.3 2560.5C888.4 2560.7 889.5 2561.7 890.5 2562.0C891.6 2562.4 892.7 2562.2 893.8 2562.6C894.9 2563.0 896.1 2564.0 897.3 2564.5C898.5 2565.0 899.6 2565.3 900.8 2565.6C902.0 2565.9 903.1 2566.1 904.3 2566.3C905.5 2566.5 906.6 2566.4 907.8 2566.7C909.0 2567.1 910.1 2568.5 911.3 2568.5C912.5 2568.5 913.7 2567.1 914.9 2566.7C916.1 2566.3 917.4 2566.6 918.6 2566.1C919.8 2565.6 921.0 2564.4 922.2 2563.6C923.4 2562.8 924.5 2562.1 925.7 2561.6C926.9 2561.1 928.0 2560.9 929.2 2560.7C930.4 2560.5 931.5 2560.9 932.7 2560.5C933.9 2560.1 935.0 2558.9 936.2 2558.3C937.4 2557.7 938.6 2557.4 939.7 2557.1C940.8 2556.8 941.9 2556.4 943.0 2556.3C944.1 2556.2 945.2 2556.1 946.2 2556.2C947.3 2556.3 948.4 2557.0 949.5 2557.0C950.6 2557.0 951.7 2556.3 952.8 2556.0C953.9 2555.7 955.0 2555.5 956.1 2555.3C957.2 2555.2 958.3 2555.2 959.3 2555.1C960.4 2555.1 961.5 2555.2 962.6 2555.1C963.7 2555.0 964.7 2554.7 965.9 2554.5C967.1 2554.3 968.3 2554.4 969.5 2554.1C970.7 2553.8 972.0 2553.0 973.2 2552.6C974.4 2552.1 975.7 2551.7 976.8 2551.6C977.9 2551.5 978.8 2551.6 979.9 2551.9C980.9 2552.3 981.9 2553.6 982.9 2553.9C983.9 2554.3 985.0 2553.8 986.0 2554.1C987.0 2554.3 988.0 2554.8 989.0 2555.3C990.1 2555.8 991.0 2556.9 992.1 2557.1C993.2 2557.3 994.4 2556.5 995.6 2556.5C996.7 2556.6 997.9 2557.4 999.1 2557.4C1000.2 2557.5 1001.4 2556.7 1002.5 2556.7C1003.7 2556.7 1004.9 2557.4 1006.0 2557.4C1007.2 2557.5 1008.3 2557.3 1009.5 2557.1C1010.7 2556.9 1011.8 2556.5 1013.0 2556.3C1014.2 2556.1 1015.3 2556.1 1016.5 2556.0C1017.7 2555.9 1018.8 2555.5 1020.0 2555.6C1021.2 2555.7 1022.3 2556.5 1023.5 2556.6C1024.7 2556.7 1025.9 2555.9 1027.0 2556.0C1028.1 2556.1 1029.2 2557.0 1030.2 2557.0C1031.3 2557.1 1032.4 2556.3 1033.5 2556.2C1034.6 2556.2 1035.7 2556.4 1036.8 2556.7C1037.8 2556.9 1038.7 2557.3 1040.0 2557.5C1041.3 2557.7 1042.9 2557.6 1044.4 2558.1C1045.9 2558.6 1047.5 2560.1 1048.8 2560.4C1050.1 2560.7 1051.1 2560.1 1052.3 2559.7C1053.5 2559.3 1054.6 2558.5 1055.8 2558.0C1057.0 2557.6 1058.1 2557.0 1059.3 2556.7C1060.5 2556.5 1061.6 2556.9 1062.8 2556.7C1064.0 2556.4 1065.1 2555.3 1066.3 2555.4C1067.5 2555.5 1068.7 2556.7 1069.9 2557.2C1071.1 2557.8 1072.4 2558.1 1073.6 2558.6C1074.8 2559.2 1076.0 2560.5 1077.2 2560.4C1078.4 2560.3 1079.4 2558.8 1080.5 2558.3C1081.6 2557.9 1082.7 2558.1 1083.8 2557.7C1084.8 2557.3 1085.9 2556.6 1087.0 2556.1C1088.1 2555.5 1089.1 2554.5 1090.3 2554.5C1091.5 2554.5 1092.7 2555.5 1093.9 2556.0C1095.1 2556.4 1096.4 2556.5 1097.6 2557.1C1098.8 2557.6 1100.0 2558.9 1101.2 2559.3C1102.4 2559.7 1103.5 2559.7 1104.7 2559.6C1105.8 2559.6 1107.0 2559.3 1108.2 2559.1C1109.3 2558.9 1110.5 2558.4 1111.6 2558.3C1112.8 2558.2 1114.0 2558.6 1115.1 2558.4C1116.3 2558.2 1118.0 2557.3 1118.6 2557.1"/>
<path d="M61.7 2888.7C62.4 2888.5 64.5 2887.5 65.8 2887.3C67.2 2887.1 68.8 2887.5 70.0 2887.5C71.2 2887.5 72.2 2887.4 73.3 2887.5C74.4 2887.7 75.6 2888.3 76.7 2888.7C77.8 2889.0 78.9 2889.4 80.0 2889.5C81.1 2889.6 82.2 2889.7 83.3 2889.5C84.4 2889.3 85.6 2888.4 86.7 2888.3C87.8 2888.1 88.9 2888.5 90.0 2888.5C91.1 2888.5 92.2 2888.3 93.3 2888.4C94.4 2888.5 95.6 2888.8 96.7 2889.1C97.8 2889.3 98.9 2889.9 100.0 2890.0C101.1 2890.1 102.2 2890.1 103.3 2889.7C104.4 2889.4 105.6 2888.4 106.7 2888.1C107.8 2887.8 108.9 2887.9 110.0 2888.0C111.1 2888.1 112.2 2888.7 113.3 2888.9C114.4 2889.1 115.6 2889.2 116.7 2889.3C117.8 2889.4 119.0 2890.0 120.0 2889.6C121.0 2889.2 121.3 2886.9 122.6 2887.0C123.9 2887.1 126.4 2889.8 127.9 2890.3C129.4 2890.8 130.3 2889.8 131.4 2889.9C132.6 2890.0 133.8 2890.6 135.0 2890.8C136.1 2890.9 137.4 2891.2 138.5 2890.9C139.6 2890.6 140.7 2889.7 141.8 2889.2C142.9 2888.6 143.7 2887.4 145.1 2887.6C146.5 2887.8 149.1 2890.5 150.4 2890.3C151.7 2890.1 152.1 2887.7 153.1 2886.3C154.1 2884.9 155.6 2881.1 156.4 2881.7C157.2 2882.2 155.6 2888.4 157.7 2889.6C159.8 2890.8 166.6 2889.9 168.9 2888.9C171.2 2887.9 169.8 2885.4 171.6 2883.7C173.4 2881.9 176.4 2880.1 179.5 2878.4C182.6 2876.7 187.2 2874.4 190.1 2873.7C193.0 2873.0 194.5 2873.4 196.7 2874.1C198.9 2874.8 201.5 2876.3 203.3 2877.7C205.1 2879.1 206.3 2880.2 207.3 2882.3C208.3 2884.4 207.3 2888.8 209.3 2890.3C211.3 2891.9 216.2 2891.3 219.2 2891.6C222.2 2891.9 224.9 2892.6 227.1 2892.2C229.3 2891.8 230.4 2890.6 232.1 2889.4C233.8 2888.3 235.8 2886.9 237.2 2885.3C238.5 2883.6 239.3 2881.2 240.1 2879.6C241.0 2878.0 241.1 2879.4 242.2 2875.8C243.3 2872.1 245.5 2861.9 247.0 2857.6C248.4 2853.3 249.6 2851.5 250.7 2850.0C251.9 2848.6 252.7 2848.9 253.7 2848.9C254.7 2848.9 255.4 2848.4 257.0 2850.1C258.5 2851.7 260.9 2855.3 263.2 2859.0C265.5 2862.7 267.7 2867.6 270.6 2872.2C273.5 2876.8 277.5 2881.8 280.6 2886.8C283.7 2891.7 286.8 2897.2 289.3 2902.0C291.8 2906.7 293.4 2910.5 295.5 2915.1C297.6 2919.8 300.0 2926.4 301.8 2929.7C303.5 2933.0 304.8 2934.6 306.2 2935.0C307.6 2935.3 308.7 2935.0 310.4 2931.7C312.2 2928.4 314.6 2920.2 316.8 2915.3C318.9 2910.3 321.0 2905.5 323.1 2902.2C325.2 2898.8 326.9 2896.7 329.4 2895.3C331.9 2893.8 334.7 2893.9 338.3 2893.3C341.8 2892.8 346.7 2892.2 350.9 2891.8C355.1 2891.3 358.9 2891.4 363.5 2890.5C368.1 2889.6 374.4 2887.2 378.7 2886.4C382.9 2885.6 385.4 2885.8 388.8 2885.8C392.2 2885.7 395.9 2886.5 398.9 2886.1C401.8 2885.8 404.5 2885.2 406.4 2883.6C408.3 2881.9 408.9 2879.4 410.2 2876.3C411.5 2873.3 412.6 2871.2 414.0 2865.2C415.5 2859.1 417.6 2846.5 419.1 2840.2C420.5 2833.8 421.6 2830.4 422.7 2827.1C423.8 2823.8 424.7 2821.7 425.7 2820.3C426.6 2818.9 427.5 2818.7 428.4 2818.8C429.3 2818.8 430.1 2818.9 431.1 2820.3C432.0 2821.7 433.1 2823.8 434.1 2827.2C435.2 2830.5 435.5 2834.3 437.5 2840.3C439.5 2846.3 443.0 2855.7 446.0 2863.4C449.0 2871.1 452.8 2879.3 455.6 2886.5C458.4 2893.6 460.4 2897.5 462.8 2906.3C465.2 2915.1 468.1 2930.5 470.0 2939.3C472.0 2948.0 473.1 2954.0 474.4 2958.9C475.6 2963.9 476.6 2966.8 477.5 2968.9C478.5 2971.0 479.1 2971.7 480.0 2971.8C480.9 2971.8 481.6 2971.1 482.6 2968.9C483.6 2966.8 484.6 2963.9 486.0 2959.0C487.4 2954.1 489.1 2947.0 491.0 2939.4C492.9 2931.7 495.3 2919.1 497.4 2913.1C499.5 2907.1 501.2 2905.4 503.8 2903.3C506.3 2901.1 510.4 2900.9 512.7 2900.3C515.0 2899.8 514.8 2901.0 517.8 2900.0C520.7 2899.1 526.3 2896.1 530.5 2894.8C534.8 2893.5 539.0 2893.1 543.3 2892.3C547.5 2891.5 552.2 2890.9 555.9 2890.1C559.6 2889.2 562.8 2888.0 565.4 2887.2C568.1 2886.3 569.7 2885.4 571.8 2884.9C573.9 2884.4 576.3 2884.9 578.2 2884.3C580.1 2883.7 581.8 2883.0 583.2 2881.3C584.7 2879.7 585.8 2877.5 587.1 2874.1C588.4 2870.7 589.6 2866.5 590.9 2861.0C592.2 2855.5 593.5 2847.2 594.8 2841.2C596.0 2835.3 597.2 2829.2 598.5 2825.0C599.8 2820.8 601.3 2817.9 602.5 2816.1C603.6 2814.4 604.4 2814.5 605.4 2814.5C606.4 2814.5 607.2 2814.4 608.2 2816.2C609.2 2818.0 610.3 2820.9 611.4 2825.1C612.5 2829.3 613.0 2834.3 614.7 2841.4C616.5 2848.5 619.6 2860.0 622.0 2867.7C624.4 2875.4 626.9 2880.9 629.3 2887.5C631.8 2894.1 634.2 2900.7 636.7 2907.3C639.1 2913.9 642.1 2921.5 644.0 2927.1C645.8 2932.8 646.5 2936.0 647.7 2941.1C648.9 2946.3 650.1 2953.5 651.3 2957.9C652.4 2962.3 653.5 2965.6 654.5 2967.6C655.4 2969.7 656.1 2970.1 657.0 2970.1C657.9 2970.1 658.6 2969.7 659.6 2967.7C660.6 2965.6 661.8 2962.4 663.1 2958.0C664.5 2953.6 666.2 2946.9 667.6 2941.2C668.9 2935.6 669.9 2929.1 671.4 2924.0C672.9 2919.0 674.7 2914.5 676.4 2910.9C678.1 2907.3 679.5 2904.3 681.4 2902.3C683.3 2900.4 685.7 2899.7 687.8 2899.1C689.9 2898.4 691.0 2898.4 694.1 2898.5C697.3 2898.5 703.7 2899.4 706.7 2899.5C709.6 2899.7 709.3 2899.8 711.8 2899.2C714.3 2898.6 718.5 2896.9 721.9 2896.0C725.2 2895.1 729.1 2894.3 732.0 2893.8C735.0 2893.2 736.2 2893.1 739.6 2892.8C742.9 2892.5 749.1 2892.4 752.2 2891.9C755.4 2891.4 756.9 2891.1 758.6 2889.7C760.3 2888.2 761.0 2885.5 762.3 2883.1C763.6 2880.7 764.6 2878.7 766.1 2875.2C767.6 2871.7 769.5 2865.6 771.1 2862.1C772.8 2858.6 774.8 2855.7 776.3 2854.2C777.8 2852.7 778.7 2853.1 780.0 2853.2C781.3 2853.4 782.2 2852.9 783.9 2854.9C785.6 2857.0 787.9 2861.5 790.3 2865.5C792.6 2869.5 795.3 2874.3 797.9 2878.7C800.5 2883.1 803.3 2888.3 805.6 2891.9C808.0 2895.6 809.8 2897.2 811.9 2900.5C814.1 2903.8 816.0 2907.1 818.3 2911.8C820.7 2916.4 823.6 2924.3 826.1 2928.3C828.6 2932.2 831.1 2935.5 833.2 2935.6C835.3 2935.6 837.1 2930.7 838.6 2928.3C840.2 2926.0 840.1 2926.4 842.3 2921.4C844.5 2916.4 849.9 2900.4 851.9 2898.1C853.9 2895.8 852.4 2908.1 854.0 2907.6C855.6 2907.1 858.8 2896.6 861.4 2894.9C864.0 2893.2 865.9 2896.6 869.8 2897.7C873.7 2898.8 881.7 2900.6 884.7 2901.3C887.7 2902.0 886.8 2901.3 887.9 2901.7C888.9 2902.2 890.0 2903.3 891.0 2903.7C892.1 2904.2 893.1 2904.4 894.2 2904.7C895.3 2905.0 896.3 2905.2 897.4 2905.5C898.4 2905.7 899.5 2905.7 900.5 2906.0C901.6 2906.4 902.6 2907.5 903.7 2907.6C904.8 2907.7 905.8 2907.0 906.9 2906.5C907.9 2906.1 909.0 2905.6 910.1 2905.0C911.1 2904.4 912.2 2903.5 913.2 2902.9C914.3 2902.3 915.4 2901.9 916.4 2901.3C917.5 2900.7 918.6 2899.7 919.6 2899.2C920.7 2898.7 921.7 2898.5 922.8 2898.1C923.9 2897.7 925.0 2896.8 926.1 2896.6C927.2 2896.4 928.3 2896.7 929.4 2896.7C930.5 2896.6 931.6 2896.7 932.7 2896.5C933.8 2896.2 935.0 2895.1 936.1 2894.9C937.2 2894.8 938.3 2895.8 939.4 2895.6C940.5 2895.5 941.6 2894.3 942.7 2894.0C943.8 2893.7 944.9 2894.1 946.0 2893.9C947.1 2893.7 948.0 2893.3 949.0 2893.0C950.0 2892.7 951.0 2892.1 952.1 2892.2C953.1 2892.2 954.1 2893.4 955.1 2893.4C956.1 2893.5 957.1 2892.7 958.1 2892.5C959.1 2892.3 960.1 2892.5 961.1 2892.3C962.2 2892.1 963.2 2891.6 964.2 2891.4C965.2 2891.1 966.2 2890.7 967.2 2890.7C968.2 2890.7 969.3 2890.8 970.4 2891.2C971.4 2891.6 972.5 2892.5 973.5 2893.0C974.6 2893.6 975.7 2894.2 976.7 2894.7C977.8 2895.2 978.8 2895.9 979.9 2896.0C981.0 2896.1 982.0 2895.1 983.1 2895.2C984.1 2895.3 985.2 2896.6 986.2 2896.6C987.3 2896.6 988.4 2895.7 989.4 2895.4C990.5 2895.2 991.5 2894.8 992.6 2894.9C993.6 2895.0 994.7 2896.1 995.8 2896.0C996.8 2896.0 997.9 2894.7 998.9 2894.7C1000.0 2894.7 1001.0 2895.9 1002.1 2896.0C1003.1 2896.1 1004.2 2895.2 1005.3 2895.0C1006.3 2894.9 1007.4 2895.1 1008.4 2895.1C1009.5 2895.1 1010.5 2894.9 1011.6 2894.9C1012.7 2894.9 1013.8 2895.0 1014.9 2895.2C1016.0 2895.4 1017.1 2895.9 1018.3 2896.1C1019.4 2896.3 1020.5 2896.1 1021.6 2896.2C1022.7 2896.2 1023.8 2896.1 1024.9 2896.5C1026.0 2896.9 1027.1 2898.4 1028.2 2898.6C1029.4 2898.9 1030.5 2898.0 1031.6 2898.1C1032.7 2898.2 1033.8 2899.1 1034.9 2899.2C1036.0 2899.3 1037.0 2899.2 1038.1 2898.9C1039.1 2898.5 1040.2 2897.3 1041.3 2897.0C1042.3 2896.8 1043.4 2897.7 1044.5 2897.6C1045.5 2897.5 1046.6 2897.0 1047.6 2896.6C1048.7 2896.3 1049.8 2896.0 1050.8 2895.6C1051.9 2895.2 1052.9 2894.2 1054.0 2894.3C1055.1 2894.4 1056.1 2895.6 1057.2 2896.0C1058.2 2896.4 1059.3 2896.5 1060.3 2896.9C1061.4 2897.3 1062.5 2898.0 1063.5 2898.4C1064.6 2898.8 1065.6 2899.5 1066.7 2899.2C1067.8 2898.9 1069.0 2897.2 1070.2 2896.6C1071.4 2895.9 1072.5 2895.8 1073.7 2895.3C1074.9 2894.8 1076.1 2893.6 1077.2 2893.4C1078.3 2893.2 1079.3 2894.3 1080.3 2894.3C1081.4 2894.3 1082.4 2893.4 1083.5 2893.5C1084.5 2893.7 1085.6 2894.8 1086.6 2895.2C1087.6 2895.5 1088.7 2895.5 1089.7 2895.4C1090.8 2895.4 1091.8 2894.9 1092.9 2894.9C1093.9 2894.9 1095.0 2895.0 1096.0 2895.2C1097.0 2895.3 1098.1 2895.5 1099.1 2895.6C1100.2 2895.8 1101.2 2895.7 1102.3 2895.9C1103.3 2896.0 1104.9 2896.3 1105.4 2896.4"/>
<path d="M61.9 3205.2C62.4 3205.0 63.9 3204.0 64.9 3203.8C65.9 3203.5 66.7 3203.5 67.9 3203.7C69.1 3203.9 70.5 3204.4 71.8 3205.0C73.2 3205.6 74.6 3206.8 75.8 3207.2C77.0 3207.6 78.1 3207.0 79.3 3207.2C80.4 3207.5 81.6 3208.4 82.8 3208.5C83.9 3208.7 85.1 3208.2 86.2 3208.2C87.4 3208.3 88.6 3208.6 89.7 3208.6C90.8 3208.6 91.9 3208.7 93.0 3208.5C94.1 3208.2 95.2 3207.2 96.3 3207.0C97.4 3206.8 98.3 3207.4 99.6 3207.2C100.9 3207.0 102.6 3206.1 104.0 3205.6C105.5 3205.1 107.2 3204.0 108.5 3204.0C109.8 3204.0 110.8 3205.1 112.0 3205.3C113.2 3205.6 114.3 3205.7 115.5 3205.6C116.7 3205.5 118.1 3204.9 119.5 3204.5C120.8 3204.1 122.2 3203.2 123.4 3203.3C124.6 3203.4 125.4 3204.9 126.4 3205.4C127.4 3205.8 128.3 3205.7 129.4 3206.0C130.5 3206.3 131.6 3206.9 132.7 3207.0C133.8 3207.1 134.9 3206.6 136.0 3206.6C137.1 3206.6 138.1 3207.5 139.3 3207.2C140.5 3206.9 141.9 3205.3 143.2 3204.8C144.6 3204.3 146.0 3203.9 147.2 3204.0C148.4 3204.1 149.2 3205.1 150.2 3205.4C151.2 3205.7 152.0 3207.3 153.2 3206.0C154.3 3204.7 156.2 3197.8 157.1 3197.7C158.0 3197.6 156.7 3204.1 158.7 3205.2C160.7 3206.2 166.6 3204.9 169.0 3204.0C171.4 3203.1 171.0 3201.4 173.0 3199.7C175.0 3198.0 178.0 3195.4 181.0 3193.7C184.0 3192.0 187.6 3189.9 190.9 3189.4C194.2 3188.9 198.0 3189.6 200.8 3190.8C203.6 3192.0 206.3 3193.9 207.7 3196.7C209.1 3199.5 206.8 3205.7 209.3 3207.6C211.8 3209.5 218.4 3208.2 222.6 3208.0C226.8 3207.8 232.0 3207.2 234.5 3206.6C237.0 3206.0 236.7 3204.9 237.7 3204.1C238.7 3203.3 239.8 3202.5 240.7 3201.9C241.5 3201.3 241.6 3201.9 242.8 3200.5C243.9 3199.1 246.1 3195.2 247.5 3193.6C249.0 3192.0 250.2 3191.3 251.3 3190.7C252.4 3190.2 253.3 3190.3 254.3 3190.3C255.3 3190.3 256.0 3190.1 257.6 3190.8C259.2 3191.4 261.5 3192.8 263.8 3194.2C266.1 3195.6 268.4 3197.5 271.3 3199.3C274.2 3201.1 278.2 3203.0 281.3 3204.9C284.4 3206.8 287.5 3208.9 290.0 3210.7C292.5 3212.5 294.2 3214.0 296.3 3215.8C298.4 3217.6 300.7 3220.1 302.5 3221.4C304.3 3222.6 305.6 3223.3 307.0 3223.4C308.4 3223.5 309.4 3223.4 311.2 3222.2C312.9 3220.9 315.4 3217.8 317.5 3215.9C319.6 3214.1 321.7 3212.2 323.8 3211.0C325.9 3209.7 327.5 3208.9 330.1 3208.4C332.6 3207.8 335.3 3207.9 338.8 3207.7C342.4 3207.5 347.3 3207.3 351.4 3207.1C355.6 3207.0 359.3 3207.0 363.9 3206.7C368.5 3206.4 374.8 3205.5 379.0 3205.2C383.2 3204.9 385.7 3205.0 389.1 3205.0C392.4 3205.0 396.1 3205.3 399.0 3205.2C402.0 3205.1 404.7 3204.9 406.5 3204.2C408.4 3203.6 409.1 3202.7 410.3 3201.5C411.6 3200.3 412.7 3199.5 414.1 3197.3C415.6 3195.0 417.7 3190.2 419.1 3187.7C420.5 3185.3 421.6 3184.0 422.7 3182.8C423.8 3181.5 424.8 3180.7 425.7 3180.2C426.7 3179.7 427.5 3179.6 428.4 3179.6C429.3 3179.6 430.1 3179.7 431.1 3180.2C432.1 3180.8 433.1 3181.6 434.2 3182.8C435.3 3184.1 435.6 3185.6 437.6 3187.9C439.6 3190.2 443.2 3193.8 446.3 3196.7C449.4 3199.7 453.2 3202.8 456.0 3205.6C458.8 3208.3 460.9 3209.8 463.3 3213.2C465.7 3216.5 468.7 3222.4 470.7 3225.8C472.6 3229.2 473.8 3231.4 475.1 3233.3C476.3 3235.2 477.3 3236.3 478.3 3237.2C479.2 3238.0 480.0 3238.2 480.8 3238.2C481.6 3238.3 482.4 3238.0 483.4 3237.2C484.3 3236.4 485.3 3235.3 486.6 3233.4C488.0 3231.5 489.7 3228.9 491.6 3225.9C493.4 3223.0 495.7 3218.2 497.8 3215.9C499.8 3213.6 501.5 3213.0 504.0 3212.2C506.5 3211.4 510.4 3211.3 512.7 3211.1C514.9 3210.9 514.7 3211.4 517.6 3211.0C520.5 3210.7 525.9 3209.6 530.0 3209.1C534.2 3208.6 538.3 3208.5 542.4 3208.2C546.6 3207.9 551.2 3207.7 554.8 3207.4C558.4 3207.1 561.5 3206.7 564.0 3206.3C566.6 3206.0 568.2 3205.7 570.3 3205.5C572.3 3205.3 574.6 3205.5 576.5 3205.3C578.3 3205.1 580.0 3204.8 581.4 3204.2C582.8 3203.6 583.9 3202.8 585.1 3201.5C586.4 3200.2 587.6 3198.5 588.9 3196.5C590.1 3194.4 591.4 3191.2 592.6 3188.9C593.9 3186.7 595.0 3184.4 596.3 3182.8C597.5 3181.2 599.0 3180.1 600.1 3179.4C601.3 3178.7 602.0 3178.8 603.0 3178.8C604.0 3178.8 604.9 3178.8 605.9 3179.4C607.0 3180.1 608.2 3181.3 609.3 3182.9C610.4 3184.5 610.9 3186.4 612.8 3189.1C614.6 3191.8 617.8 3196.2 620.4 3199.2C622.9 3202.1 625.5 3204.3 628.0 3206.8C630.6 3209.3 633.2 3211.8 635.7 3214.4C638.3 3216.9 641.5 3219.8 643.4 3222.0C645.3 3224.1 646.0 3225.4 647.2 3227.3C648.5 3229.3 649.8 3232.1 651.0 3233.8C652.2 3235.4 653.4 3236.7 654.4 3237.5C655.4 3238.3 656.1 3238.4 657.0 3238.4C657.9 3238.5 658.6 3238.3 659.6 3237.5C660.6 3236.7 661.7 3235.5 663.0 3233.8C664.3 3232.2 666.0 3229.6 667.4 3227.5C668.7 3225.3 669.7 3222.8 671.1 3220.9C672.5 3219.0 674.4 3217.3 676.0 3215.9C677.7 3214.5 679.1 3213.4 681.0 3212.7C682.8 3211.9 685.1 3211.7 687.2 3211.5C689.2 3211.2 690.3 3211.2 693.4 3211.3C696.5 3211.3 702.8 3211.7 705.7 3211.7C708.6 3211.8 708.3 3211.8 710.7 3211.6C713.2 3211.4 717.3 3210.8 720.6 3210.4C723.9 3210.1 727.7 3209.8 730.6 3209.6C733.5 3209.4 734.7 3209.4 738.0 3209.3C741.3 3209.2 747.3 3209.2 750.4 3209.0C753.5 3208.8 755.0 3208.7 756.6 3208.2C758.2 3207.6 759.0 3206.6 760.2 3205.7C761.5 3204.8 762.5 3204.0 764.0 3202.7C765.4 3201.4 767.3 3199.0 768.9 3197.7C770.6 3196.4 772.5 3195.3 774.0 3194.7C775.4 3194.2 776.3 3194.3 777.6 3194.4C778.9 3194.4 779.8 3194.3 781.5 3195.0C783.3 3195.8 785.7 3197.6 788.0 3199.1C790.4 3200.6 793.2 3202.5 795.8 3204.2C798.4 3205.9 801.2 3207.9 803.6 3209.3C806.0 3210.7 807.9 3211.3 810.0 3212.6C812.2 3213.9 814.1 3215.1 816.5 3216.9C818.9 3218.7 821.9 3221.7 824.4 3223.2C826.9 3224.8 829.5 3226.0 831.6 3226.1C833.7 3226.1 835.3 3225.0 837.1 3223.3C838.9 3221.6 839.8 3218.6 842.3 3216.0C844.8 3213.4 849.9 3208.2 851.9 3208.0C853.9 3207.8 852.4 3215.2 854.0 3215.0C855.6 3214.8 858.8 3207.8 861.4 3207.0C864.0 3206.2 865.9 3208.8 869.8 3210.0C873.7 3211.2 881.7 3213.0 884.7 3214.0C887.7 3215.0 886.8 3215.6 887.9 3215.8C888.9 3216.1 890.0 3215.3 891.0 3215.4C892.1 3215.4 893.1 3215.6 894.2 3216.1C895.3 3216.7 896.3 3218.5 897.4 3218.9C898.4 3219.3 899.5 3218.2 900.5 3218.4C901.6 3218.6 902.6 3220.1 903.7 3220.0C904.8 3219.9 905.8 3218.3 906.9 3217.8C907.9 3217.4 909.0 3217.7 910.1 3217.3C911.1 3216.8 912.2 3215.7 913.2 3215.2C914.3 3214.8 915.4 3215.2 916.4 3214.7C917.5 3214.2 918.6 3212.6 919.6 3212.0C920.7 3211.4 921.7 3211.1 922.8 3211.0C923.9 3210.9 925.0 3211.5 926.1 3211.3C927.2 3211.1 928.3 3209.9 929.4 3209.7C930.5 3209.4 931.6 3209.7 932.7 3209.7C933.8 3209.7 935.0 3209.9 936.1 3209.8C937.2 3209.6 938.3 3209.0 939.4 3208.8C940.5 3208.7 941.6 3209.0 942.7 3208.8C943.8 3208.5 944.9 3207.7 946.0 3207.5C947.1 3207.3 948.0 3207.7 949.0 3207.4C950.0 3207.2 951.0 3205.9 952.1 3205.8C953.1 3205.7 954.1 3206.9 955.1 3206.9C956.1 3206.9 957.1 3206.3 958.1 3205.9C959.1 3205.6 960.1 3205.3 961.1 3205.0C962.2 3204.8 963.2 3204.5 964.2 3204.4C965.2 3204.3 966.2 3204.1 967.2 3204.5C968.2 3204.9 969.3 3206.0 970.4 3206.5C971.4 3207.0 972.5 3206.9 973.5 3207.4C974.6 3207.9 975.7 3209.0 976.7 3209.4C977.8 3209.8 978.8 3209.8 979.9 3210.0C981.0 3210.2 982.0 3210.3 983.1 3210.4C984.1 3210.5 985.2 3210.7 986.2 3210.6C987.3 3210.5 988.4 3209.9 989.4 3209.8C990.5 3209.7 991.5 3210.0 992.6 3210.0C993.6 3209.9 994.7 3209.9 995.8 3209.7C996.8 3209.5 997.9 3208.9 998.9 3209.0C1000.0 3209.0 1001.0 3210.1 1002.1 3210.1C1003.1 3210.1 1004.2 3208.9 1005.3 3208.9C1006.3 3208.8 1007.4 3209.6 1008.4 3209.6C1009.5 3209.6 1010.5 3208.9 1011.6 3209.0C1012.7 3209.1 1013.8 3210.2 1014.9 3210.4C1016.0 3210.6 1017.1 3210.5 1018.3 3210.4C1019.4 3210.4 1020.5 3209.8 1021.6 3210.1C1022.7 3210.3 1023.8 3211.5 1024.9 3211.9C1026.0 3212.2 1027.1 3212.2 1028.2 3212.2C1029.4 3212.2 1030.5 3211.7 1031.6 3211.9C1032.7 3212.0 1033.8 3213.1 1034.9 3213.0C1036.0 3212.9 1037.0 3211.7 1038.1 3211.4C1039.1 3211.2 1040.2 3211.8 1041.3 3211.6C1042.3 3211.3 1043.4 3210.0 1044.5 3209.9C1045.5 3209.8 1046.6 3210.9 1047.6 3210.8C1048.7 3210.7 1049.8 3209.6 1050.8 3209.3C1051.9 3208.9 1052.9 3208.4 1054.0 3208.5C1055.1 3208.6 1056.1 3209.3 1057.2 3209.7C1058.2 3210.0 1059.3 3210.2 1060.3 3210.6C1061.4 3211.0 1062.5 3211.8 1063.5 3212.2C1064.6 3212.6 1065.6 3213.0 1066.7 3213.0C1067.8 3213.0 1069.0 3212.6 1070.2 3211.9C1071.4 3211.2 1072.5 3209.7 1073.7 3209.0C1074.9 3208.3 1076.1 3207.7 1077.2 3207.5C1078.3 3207.3 1079.3 3207.6 1080.3 3207.8C1081.4 3208.0 1082.4 3208.6 1083.5 3208.8C1084.5 3208.9 1085.6 3208.6 1086.6 3208.8C1087.6 3209.0 1088.7 3209.6 1089.7 3209.9C1090.8 3210.2 1091.8 3210.2 1092.9 3210.4C1093.9 3210.5 1095.0 3210.5 1096.0 3210.7C1097.0 3210.9 1098.1 3211.5 1099.1 3211.7C1100.2 3211.9 1101.2 3211.9 1102.3 3212.0C1103.3 3212.1 1104.9 3212.4 1105.4 3212.5"/>
</g>
<g font-family="'Liberation Serif', 'Times New Roman', serif" font-size="65" fill="#000">
<text x="913" y="2063">Control</text>
<text x="893" y="2517">6.0 &#956;g/ml</text>
<text x="896" y="2861">12.0 &#956;g/ml</text>
<text x="892" y="3177">24.0 &#956;g/ml</text>
</g>
<text x="974" y="3392" font-family="'Liberation Serif', serif" font-weight="bold" font-size="86"><tspan font-weight="normal">(</tspan>b<tspan font-weight="normal">)</tspan></text>
<path fill="none" stroke="#000" stroke-width="2.5" stroke-linecap="butt" d="M1662.2 2084.1L1714.8 2114.5M1714.8 2114.5L1714.8 2175.2M1714.8 2175.2L1662.2 2205.5M1662.2 2205.5L1609.6 2175.2M1609.6 2175.2L1609.6 2114.5M1609.6 2114.5L1662.2 2084.1M1620.5 2120.3L1661.8 2096.4M1704.3 2121.0L1704.3 2168.7M1661.8 2193.2L1620.5 2169.3M1539.7 2094.1L1504.5 2114.5M1574.4 2094.1L1609.6 2114.5M1504.5 2114.5L1504.5 2175.2M1504.5 2175.2L1557.1 2205.5M1557.1 2205.5L1609.6 2175.2M1515.4 2169.3L1556.7 2193.2M1504.5 2114.5L1451.9 2084.1M1504.5 2114.5L1451.9 2144.8M1750.0 2094.1L1714.8 2114.5M1784.7 2094.1L1819.9 2114.5M1819.9 2114.5L1819.9 2175.2M1819.9 2175.2L1767.3 2205.5M1767.3 2205.5L1714.8 2175.2M1809.4 2121.0L1809.4 2168.7M1761.7 2204.5L1761.7 2245.2M1772.9 2204.5L1772.9 2245.2M1662.2 2205.5L1662.2 2245.2M1662.2 2084.1L1662.2 2023.4M1662.2 2023.4L1609.6 1993.1M1609.6 1993.1L1609.6 1932.4M1620.1 1987.1L1620.1 1938.4M1609.6 1932.4L1557.1 1902.0M1609.6 1932.4L1662.2 1902.0M1819.9 2175.2L1872.5 2205.5M1925.0 2175.2L1977.6 2205.5M1977.6 2205.5L1977.6 2266.2M1977.6 2266.2L1925.0 2296.5M1925.0 2296.5L1872.5 2266.2M1872.5 2266.2L1872.5 2205.5M1872.5 2205.5L1925.0 2175.2M1883.0 2259.7L1883.0 2212.0M1925.4 2187.5L1966.7 2211.3M1966.7 2260.4L1925.4 2284.2M1977.6 2205.5L2013.7 2184.7M1977.6 2266.2L2013.7 2287.0"/>
<g font-family="'Liberation Sans', Arial, sans-serif" font-size="43.5" fill="#000">
<text x="1539.7" y="2101.3">O</text>
<text x="1749.4" y="2101.3">O</text>
<text x="1749.4" y="2283.3">O</text>
<text x="1646.0" y="2283.3" textLength="62.9" lengthAdjust="spacingAndGlyphs">OH</text>
<text x="2012.1" y="2190.8" textLength="62.9" lengthAdjust="spacingAndGlyphs">OH</text>
<text x="2012.1" y="2312.8" textLength="62.9" lengthAdjust="spacingAndGlyphs">OH</text>
</g>
<text x="1754" y="2370" text-anchor="middle" font-family="'Liberation Sans', Arial, sans-serif" font-weight="bold" font-size="43">2</text>
<text x="1447.5" y="1906.7" font-family="'Liberation Serif', serif" font-weight="bold" font-size="63">(I)</text>
<g fill="none" stroke="#000" stroke-width="2">
<rect x="1428.1" y="2449.5" width="676.3" height="675.5"/>
<line x1="1421.1" y1="3125.0" x2="1428.1" y2="3125.0"/>
<line x1="1421.1" y1="2956.1" x2="1428.1" y2="2956.1"/>
<line x1="1421.1" y1="2787.2" x2="1428.1" y2="2787.2"/>
<line x1="1421.1" y1="2618.4" x2="1428.1" y2="2618.4"/>
<line x1="1421.1" y1="2449.5" x2="1428.1" y2="2449.5"/>
<line x1="1428.1" y1="3125.0" x2="1428.1" y2="3134.0"/>
<line x1="1563.4" y1="3125.0" x2="1563.4" y2="3134.0"/>
<line x1="1698.6" y1="3125.0" x2="1698.6" y2="3134.0"/>
<line x1="1833.9" y1="3125.0" x2="1833.9" y2="3134.0"/>
<line x1="1969.1" y1="3125.0" x2="1969.1" y2="3134.0"/>
<line x1="2104.4" y1="3125.0" x2="2104.4" y2="3134.0"/>
<line x1="1438.1" y1="3125.0" x2="2104.4" y2="2535.6"/>
<circle cx="1428.1" cy="3122.5" r="13.8"/>
<circle cx="1509.3" cy="3085.3" r="13.8"/>
<circle cx="1595.8" cy="2970.5" r="13.8"/>
<circle cx="1752.7" cy="2835.4" r="13.8"/>
<circle cx="2077.3" cy="2561.0" r="13.8"/>
</g>
<g font-family="'Liberation Sans', Arial, sans-serif" font-size="49" fill="#000">
<text x="1398.7" y="3141.9" text-anchor="end" textLength="26.2" lengthAdjust="spacingAndGlyphs">0</text>
<text x="1398.7" y="2973.0" text-anchor="end" textLength="26.2" lengthAdjust="spacingAndGlyphs">2</text>
<text x="1398.7" y="2804.2" text-anchor="end" textLength="26.2" lengthAdjust="spacingAndGlyphs">4</text>
<text x="1398.7" y="2635.3" text-anchor="end" textLength="26.2" lengthAdjust="spacingAndGlyphs">6</text>
<text x="1398.7" y="2466.4" text-anchor="end" textLength="26.2" lengthAdjust="spacingAndGlyphs">8</text>
<text x="1428.1" y="3200.6" text-anchor="middle" textLength="26.2" lengthAdjust="spacingAndGlyphs">0</text>
<text x="1563.4" y="3200.6" text-anchor="middle" textLength="26.2" lengthAdjust="spacingAndGlyphs">5</text>
<text x="1698.6" y="3200.6" text-anchor="middle" font-size="50.5">10</text>
<text x="1833.9" y="3200.6" text-anchor="middle" font-size="50.5">15</text>
<text x="1969.1" y="3200.6" text-anchor="middle" font-size="50.5">20</text>
<text x="2104.4" y="3200.6" text-anchor="middle" font-size="50.5">25</text>
</g>
<g font-family="'Liberation Sans', Arial, sans-serif" font-size="48" fill="#000">
<text x="1535.8" y="3271" textLength="464" lengthAdjust="spacing">Concentration (<tspan font-family="'Liberation Serif', serif">&#956;</tspan>g/ml)</text>
<text x="1314.4" y="3011" textLength="472.5" lengthAdjust="spacingAndGlyphs" transform="rotate(-90 1314.4 3011)">Decrease ratio <tspan font-family="'Liberation Serif', serif">[(<tspan font-style="italic">I</tspan><tspan font-size="42" dy="11">0</tspan><tspan dy="-11">/</tspan><tspan font-style="italic">I</tspan>)-1]</tspan></text>
</g>
<text x="1447.8" y="2519" font-family="'Liberation Serif', serif" font-weight="bold" font-size="63">(II)</text>
</svg>
</body></html>
